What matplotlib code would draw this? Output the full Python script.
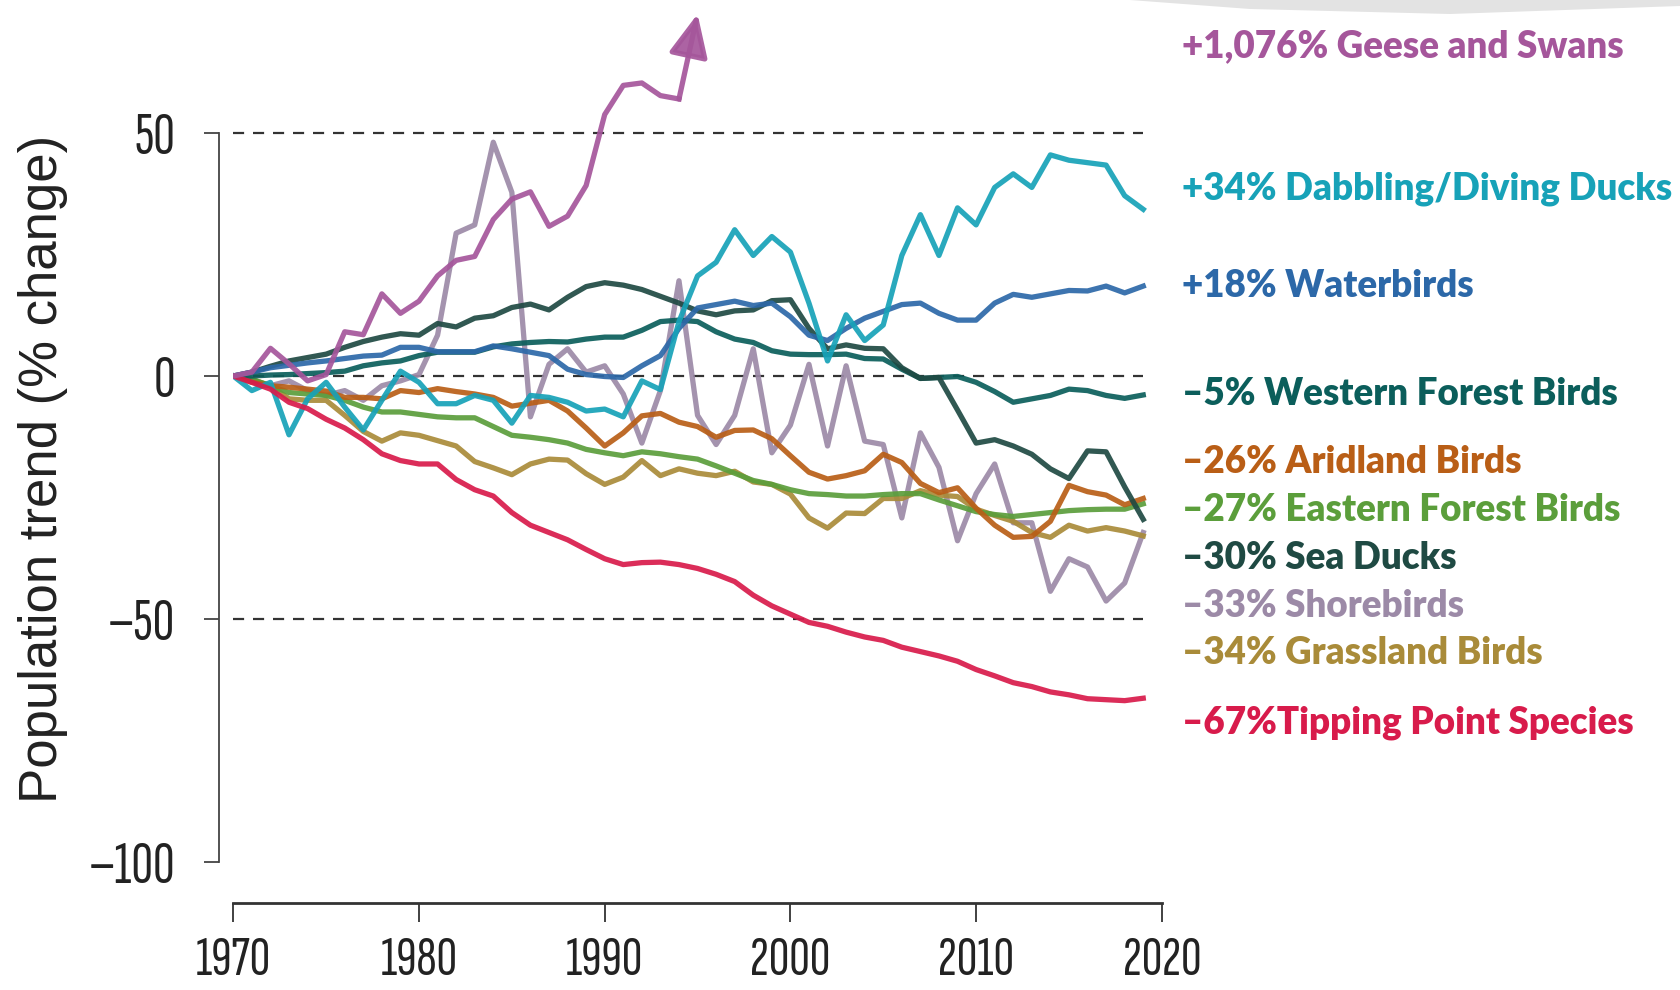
import matplotlib.pyplot as plt
from matplotlib.patches import Polygon

YEARS = list(range(1970, 2020))
GEESE_YEARS = list(range(1970, 1996))

# % change since 1970
geese = [0, 0.8, 5.7, 2.5, -1.0, 0.3, 9.1, 8.5, 16.9, 12.9, 15.4, 20.6, 23.8,
         24.6, 32.2, 36.4, 37.9, 30.8, 32.9, 39.2, 53.8, 59.8, 60.3, 57.7, 57.0,
         74.5]
dabbling = [0, -3.0, -1.3, -12.1, -4.7, -1.3, -6.4, -11.1, -5.0, 1.0, -1.3,
            -5.7, -5.7, -4.0, -5.0, -9.7, -4.0,
            -4.4, -5.4, -7.2, -6.8, -8.4, -1.0, -2.8, 11.2, 20.6, 23.4, 30.1,
            24.8, 28.7, 25.5, 15.0, 3.1,
            12.6, 7.3, 10.5, 24.8, 33.2, 24.8, 34.6, 31.1, 38.8, 41.6, 38.8,
            45.5, 44.4, 43.9, 43.4, 37.1, 34.3]
waterbirds = [0, 0.8, 1.7, 2.2, 2.7, 3.1, 3.6, 4.1, 4.3, 5.9, 5.9, 5.0, 5.0,
              5.0, 6.2, 5.6, 4.9,
              4.2, 1.4, 0.3, -0.1, -0.3, 2.1, 4.2, 9.8, 14.0, 14.7, 15.4,
              14.5, 15.0, 12.2, 8.4, 7.3,
              9.8, 11.9, 13.3, 14.7, 15.0, 12.9, 11.5, 11.5, 15.0, 16.8, 16.2,
              16.9, 17.6, 17.5, 18.5, 17.1, 18.5]
western_forest = [0, 0, 0.2, 0.3, 0.5, 0.7, 1.0, 2.1, 2.7, 3.1, 4.2, 4.9, 4.9,
                  4.9, 6.0, 6.6, 6.9,
                  7.1, 7.0, 7.6, 8.0, 8.0, 9.4, 11.2, 11.5, 11.2, 9.1, 7.6,
                  6.9, 5.2, 4.5, 4.4, 4.4,
                  4.5, 3.6, 3.5, 1.4, -0.5, -0.3, -0.1, -1.3, -3.2, -5.4, -4.7,
                  -4.0, -2.7, -3.0, -4.0, -4.6, -3.9]
aridland = [0, -1.3, -2.0, -2.3, -2.7, -3.1, -4.4, -4.4, -4.7, -3.0, -3.4,
            -2.6, -3.2, -3.7, -4.4, -6.2, -5.6,
            -5.0, -7.2, -10.7, -14.4, -11.7, -8.2, -7.7, -9.5, -10.4, -12.6,
            -11.2, -11.1, -12.9, -16.4, -19.8, -21.2,
            -20.5, -19.5, -16.1, -17.8, -22.1, -24.0, -23.0, -27.2, -30.7,
            -33.2, -33.0, -29.9, -22.5, -23.8, -24.5, -26.5, -25.2]
eastern_forest = [0, -0.7, -2.0, -3.4, -3.7, -4.0, -5.0, -6.4, -7.4, -7.4,
                  -7.9, -8.4, -8.6, -8.6, -10.4, -12.2, -12.6,
                  -13.1, -13.8, -15.1, -15.8, -16.4, -15.6, -16.0, -16.6,
                  -17.1, -18.5, -20.0, -21.5, -22.3, -23.4, -24.2, -24.4,
                  -24.7, -24.7, -24.4, -24.2, -24.2, -25.5, -26.7, -27.9,
                  -28.5, -28.9, -28.5, -28.1, -27.7, -27.5, -27.4, -27.4, -26.3]
sea_ducks = [0, 0.8, 2.0, 3.1, 3.8, 4.5, 5.9, 7.1, 8.0, 8.7, 8.4, 10.8, 10.1,
             11.9, 12.4, 14.1, 14.8,
             13.6, 16.2, 18.4, 19.2, 18.7, 17.8, 16.4, 15.0, 13.4, 12.6, 13.4,
             13.6, 15.5, 15.7, 9.8, 5.6,
             6.4, 5.7, 5.6, 1.7, -0.5, -0.3, -7.0, -13.8, -13.1, -14.4, -16.1,
             -19.1, -21.1, -15.4, -15.6, -22.8, -29.5]
shorebirds = [0, -1.0, -2.0, -1.0, -3.0, -4.0, -3.0, -5.0, -2.0, -1.0, 0.3,
              8.4, 29.4, 31.1, 48.1, 37.8, -8.4,
              2.4, 5.6, 0.8, 2.1, -3.7, -13.8, -3.0, 19.6, -8.1, -14.1, -8.1,
              5.6, -15.8, -10.1, 2.4, -14.4,
              2.1, -13.4, -14.1, -29.2, -11.7, -18.8, -33.9, -24.2, -18.1,
              -30.2, -30.2, -44.3, -37.6, -39.3, -46.3, -42.6, -32.2]
grassland = [0, -0.7, -2.0, -4.7, -5.0, -5.0, -8.1, -11.4, -13.4, -11.7,
             -12.2, -13.3, -14.4, -17.6, -18.9, -20.3, -18.1,
             -17.1, -17.3, -20.1, -22.3, -20.8, -17.4, -20.5, -19.1, -20.0,
             -20.5, -19.6, -21.8, -22.3, -24.3, -29.2, -31.3,
             -28.2, -28.3, -25.2, -25.2, -23.6, -24.5, -24.8, -27.4, -28.7,
             -29.9, -32.2, -33.2, -30.7, -31.9, -31.2, -31.9, -32.9]
tipping_point = [0, -1.3, -2.7, -5.4, -6.7, -8.9, -10.7, -13.1, -16.0, -17.4,
                 -18.1, -18.1, -21.3, -23.4, -24.7, -28.1, -30.7,
                 -32.2, -33.7, -35.7, -37.6, -38.8, -38.4, -38.3, -38.8,
                 -39.6, -40.8, -42.3, -45.1, -47.3, -49.0, -50.7, -51.5,
                 -52.7, -53.7, -54.4, -55.8, -56.7, -57.6, -58.7, -60.4,
                 -61.7, -63.1, -63.9, -65.0, -65.6, -66.4, -66.6, -66.8, -66.3]

# right-hand labels, top to bottom
LABELS = [
    "+1,076% Geese and Swans",
    "+34% Dabbling/Diving Ducks",
    "+18% Waterbirds",
    "\u20135% Western Forest Birds",
    "\u201326% Aridland Birds",
    "\u201327% Eastern Forest Birds",
    "\u201330% Sea Ducks",
    "\u201333% Shorebirds",
    "\u201334% Grassland Birds",
    "\u201367%Tipping Point Species",
]
LABEL_Y = [65.6, 36.4, 16.3, -6.0, -20.0, -29.8, -39.7, -49.6, -59.3, -73.5]

C_GEESE = "#a5569b"
C_DABBLING = "#17a2b8"
C_WATER = "#2c68a8"
C_WESTERN = "#0b5e5b"
C_ARID = "#b95e16"
C_EASTERN = "#5b9e3b"
C_SEA = "#1f4a43"
C_SHORE = "#9c8aa7"
C_GRASS = "#a98b39"
C_TIPPING = "#d81b4b"
LABEL_COLORS = [C_GEESE, C_DABBLING, C_WATER, C_WESTERN, C_ARID, C_EASTERN,
                C_SEA, C_SHORE, C_GRASS, C_TIPPING]

# drawing order, bottom to top
SERIES = [
    (shorebirds, C_SHORE),
    (grassland, C_GRASS),
    (eastern_forest, C_EASTERN),
    (aridland, C_ARID),
    (western_forest, C_WESTERN),
    (sea_ducks, C_SEA),
    (waterbirds, C_WATER),
    (dabbling, C_DABBLING),
    (tipping_point, C_TIPPING),
]

LW = 3.8
TICK_FONT = ["Sofia Sans Extra Condensed", "Roboto Condensed", "DejaVu Sans"]
LABEL_FONT = ["Lato", "DejaVu Sans"]

fig = plt.figure(figsize=(16.8, 9.9), dpi=100)
ax = fig.add_axes([0.13887, 128 / 990, 0.55268, 860.2 / 990])
ax.set_xlim(1970, 2020)
ax.set_ylim(-100, 77)

for y in [50, 0, -50]:
    ax.hlines(y, 1970, 2019, colors="#333333", linewidth=1.6,
              linestyles=(0, (5, 4)), zorder=1)

for values, color in SERIES:
    ax.plot(YEARS, values, color=color, linewidth=LW, alpha=0.92,
            solid_joinstyle="round", zorder=3)

ax.plot(GEESE_YEARS[:-1], geese[:-1], color=C_GEESE, linewidth=LW,
        alpha=0.92, solid_joinstyle="round", zorder=3)
ax.annotate(
    "",
    xy=(GEESE_YEARS[-1], geese[-1]),
    xytext=(GEESE_YEARS[-2], geese[-2]),
    arrowprops=dict(
        arrowstyle="-|>,head_length=1.3,head_width=0.6",
        mutation_scale=20,
        color=C_GEESE,
        lw=LW,
        shrinkA=0,
        shrinkB=0,
        alpha=0.92,
    ),
    zorder=3,
)

for label, y, color in zip(LABELS, LABEL_Y, LABEL_COLORS):
    ax.text(2021.1, y, label, color=color, fontsize=26.5, fontweight="heavy",
            family=LABEL_FONT, va="baseline", ha="left")

# axes styling
ax.spines["top"].set_visible(False)
ax.spines["right"].set_visible(False)
ax.spines["left"].set_position(("outward", 10))
ax.spines["bottom"].set_position(("outward", 29.5))
ax.spines["left"].set_bounds(-100, 50)
ax.spines["bottom"].set_bounds(1970, 2020)
ax.spines["left"].set_color("#444444")
ax.spines["bottom"].set_color("#333333")
ax.spines["left"].set_linewidth(1.3)
ax.spines["bottom"].set_linewidth(2.0)

ax.set_yticks([-100, -50, 0, 50])
ax.set_yticklabels(["\u2013100", "\u201350", "0", "50"])
ax.set_xticks([1970, 1980, 1990, 2000, 2010, 2020])
ax.tick_params(axis="y", length=11, width=1.3, pad=21, color="#444444",
               labelcolor="#222222", labelsize=43)
ax.tick_params(axis="x", length=14, width=1.3, pad=10, color="#333333",
               labelcolor="#222222", labelsize=41)
for lab in ax.get_xticklabels() + ax.get_yticklabels():
    lab.set_family(TICK_FONT)

fig.text(43 / 1680, 1 - 469 / 990, "Population trend (% change)",
         rotation=90, ha="center", va="center", fontsize=38,
         family=["Liberation Sans", "DejaVu Sans"], color="#222222")

# faint grey swoosh along the top right edge
fig.patches.append(Polygon(
    [[1130 / 1680, 1.0], [1680 / 1680, 1.0], [1680 / 1680, 1 - 6 / 990],
     [1450 / 1680, 1 - 14 / 990], [1250 / 1680, 1 - 9 / 990]],
    closed=True, transform=fig.transFigure, facecolor="#e3e3e3",
    edgecolor="none", zorder=0,
))

fig.savefig("out.png", dpi=100)
